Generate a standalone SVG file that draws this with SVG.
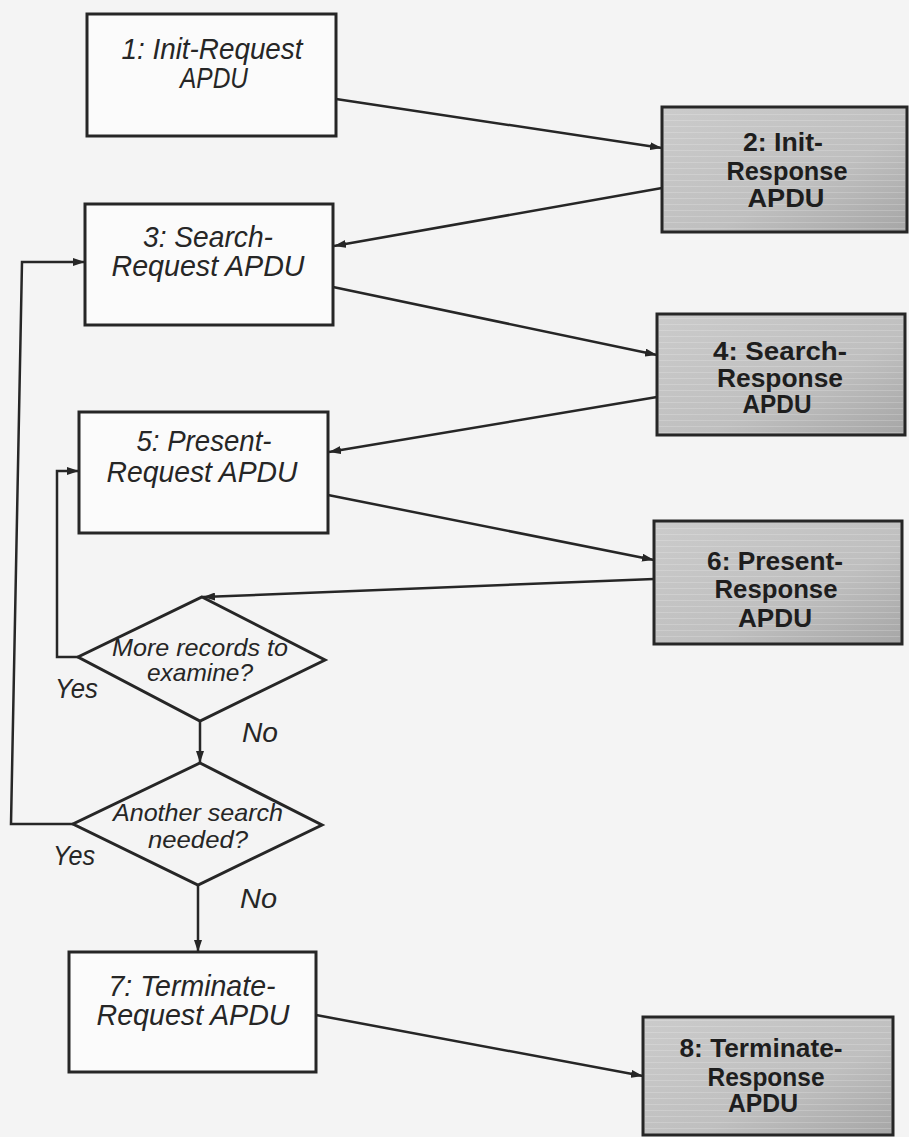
<svg xmlns="http://www.w3.org/2000/svg" width="909" height="1137" viewBox="0 0 909 1137">
  <defs>
    <style>
      .box { fill: #fbfbfb; stroke: #262626; stroke-width: 3; }
      .resp { fill: url(#respFill); stroke: #262626; stroke-width: 3; }
      .dec { fill: none; stroke: #262626; stroke-width: 3; stroke-linejoin: miter; }
      .req { font-family: "Liberation Sans", Arial, sans-serif; font-style: italic; font-size: 29px; fill: #262626; text-anchor: middle; }
      .rsp { font-family: "Liberation Sans", Arial, sans-serif; font-weight: bold; font-size: 25px; fill: #1e1e1e; text-anchor: middle; }
      .q { font-family: "Liberation Sans", Arial, sans-serif; font-style: italic; font-size: 24px; fill: #262626; text-anchor: middle; }
      .lbl { font-family: "Liberation Sans", Arial, sans-serif; font-style: italic; font-size: 27px; fill: #262626; }
      .edge { fill: none; stroke: #262626; stroke-width: 2.5; }
    </style>
    <linearGradient id="respFill" x1="0" y1="0" x2="1" y2="1">
      <stop offset="0" stop-color="#cbcbcb"/>
      <stop offset="0.6" stop-color="#bfbfbf"/>
      <stop offset="1" stop-color="#a6a6a6"/>
    </linearGradient>
    <pattern id="scan" width="8" height="6" patternUnits="userSpaceOnUse">
      <rect width="8" height="1" fill="#ffffff" opacity="0.18"/>
    </pattern>
    <marker id="arrow" viewBox="0 0 12 8" refX="12" refY="4" markerWidth="12" markerHeight="8" markerUnits="userSpaceOnUse" orient="auto">
      <path d="M0,0 L12,4 L0,8 Z" fill="#262626"/>
    </marker>
  </defs>

  <rect width="909" height="1137" fill="#f4f4f4"/>

  <!-- connectors -->
  <g id="connectors">
    <line class="edge" x1="336" y1="99" x2="662" y2="148" marker-end="url(#arrow)"/>
    <line class="edge" x1="662" y1="188" x2="334" y2="246" marker-end="url(#arrow)"/>
    <line class="edge" x1="333" y1="287" x2="657" y2="355" marker-end="url(#arrow)"/>
    <line class="edge" x1="657" y1="397" x2="329" y2="452" marker-end="url(#arrow)"/>
    <line class="edge" x1="328" y1="495" x2="654" y2="560" marker-end="url(#arrow)"/>
    <line class="edge" x1="654" y1="579" x2="203" y2="597" marker-end="url(#arrow)"/>
    <line class="edge" x1="200" y1="721" x2="200" y2="763" marker-end="url(#arrow)"/>
    <line class="edge" x1="198" y1="885" x2="198" y2="952" marker-end="url(#arrow)"/>
    <line class="edge" x1="316" y1="1015" x2="643" y2="1076" marker-end="url(#arrow)"/>
    <!-- "Yes" loop back to Present-Request -->
    <polyline class="edge" points="78,657 57,657 57,471 79,471" marker-end="url(#arrow)"/>
    <!-- "Yes" loop back to Search-Request -->
    <polyline class="edge" points="73,824 11,824 22,262 85,262" marker-end="url(#arrow)"/>
  </g>

  <!-- request nodes -->
  <g id="n1">
    <rect class="box" x="87" y="14" width="249" height="122"/>
    <text class="req" x="212" y="59" textLength="181" lengthAdjust="spacingAndGlyphs">1: Init-Request</text>
    <text class="req" x="214" y="88" textLength="68" lengthAdjust="spacingAndGlyphs">APDU</text>
  </g>
  <g id="n3">
    <rect class="box" x="85" y="204" width="248" height="121"/>
    <text class="req" x="208" y="247" textLength="130" lengthAdjust="spacingAndGlyphs">3: Search-</text>
    <text class="req" x="208" y="276" textLength="193" lengthAdjust="spacingAndGlyphs">Request APDU</text>
  </g>
  <g id="n5">
    <rect class="box" x="79" y="412" width="249" height="121"/>
    <text class="req" x="204" y="451" textLength="135" lengthAdjust="spacingAndGlyphs">5: Present-</text>
    <text class="req" x="202" y="482" textLength="191" lengthAdjust="spacingAndGlyphs">Request APDU</text>
  </g>
  <g id="n7">
    <rect class="box" x="69" y="952" width="247" height="120"/>
    <text class="req" x="192" y="996" textLength="167" lengthAdjust="spacingAndGlyphs">7: Terminate-</text>
    <text class="req" x="193" y="1025" textLength="193" lengthAdjust="spacingAndGlyphs">Request APDU</text>
  </g>

  <!-- response nodes -->
  <g id="n2">
    <rect class="resp" x="662" y="107" width="245" height="125"/>
    <rect x="664" y="109" width="241" height="121" fill="url(#scan)"/>
    <text class="rsp" x="783" y="151" textLength="80" lengthAdjust="spacingAndGlyphs">2: Init-</text>
    <text class="rsp" x="787" y="180" textLength="121" lengthAdjust="spacingAndGlyphs">Response</text>
    <text class="rsp" x="786" y="207" textLength="77" lengthAdjust="spacingAndGlyphs">APDU</text>
  </g>
  <g id="n4">
    <rect class="resp" x="657" y="314" width="248" height="121"/>
    <rect x="659" y="316" width="244" height="117" fill="url(#scan)"/>
    <text class="rsp" x="780" y="360" textLength="134" lengthAdjust="spacingAndGlyphs">4: Search-</text>
    <text class="rsp" x="780" y="387" textLength="126" lengthAdjust="spacingAndGlyphs">Response</text>
    <text class="rsp" x="777" y="413" textLength="69" lengthAdjust="spacingAndGlyphs">APDU</text>
  </g>
  <g id="n6">
    <rect class="resp" x="654" y="521" width="248" height="123"/>
    <rect x="656" y="523" width="244" height="119" fill="url(#scan)"/>
    <text class="rsp" x="775" y="570" textLength="136" lengthAdjust="spacingAndGlyphs">6: Present-</text>
    <text class="rsp" x="776" y="598" textLength="123" lengthAdjust="spacingAndGlyphs">Response</text>
    <text class="rsp" x="775" y="627" textLength="74" lengthAdjust="spacingAndGlyphs">APDU</text>
  </g>
  <g id="n8">
    <rect class="resp" x="643" y="1017" width="250" height="118"/>
    <rect x="645" y="1019" width="246" height="114" fill="url(#scan)"/>
    <text class="rsp" x="761" y="1057" textLength="163" lengthAdjust="spacingAndGlyphs">8: Terminate-</text>
    <text class="rsp" x="766" y="1086" textLength="117" lengthAdjust="spacingAndGlyphs">Response</text>
    <text class="rsp" x="763" y="1112" textLength="70" lengthAdjust="spacingAndGlyphs">APDU</text>
  </g>

  <!-- decisions -->
  <g id="d1">
    <polygon class="dec" points="202,597 325,660 200,721 78,657"/>
    <text class="q" x="200" y="656" textLength="176" lengthAdjust="spacingAndGlyphs">More records to</text>
    <text class="q" x="200" y="681" textLength="106" lengthAdjust="spacingAndGlyphs">examine?</text>
    <text class="lbl" x="55" y="698" textLength="43" lengthAdjust="spacingAndGlyphs">Yes</text>
    <text class="lbl" x="242" y="742" textLength="36" lengthAdjust="spacingAndGlyphs">No</text>
  </g>
  <g id="d2">
    <polygon class="dec" points="200,763 322,825 198,885 73,824"/>
    <text class="q" x="198" y="821" textLength="170" lengthAdjust="spacingAndGlyphs">Another search</text>
    <text class="q" x="198" y="848" textLength="100" lengthAdjust="spacingAndGlyphs">needed?</text>
    <text class="lbl" x="53" y="865" textLength="42" lengthAdjust="spacingAndGlyphs">Yes</text>
    <text class="lbl" x="240" y="908" textLength="37" lengthAdjust="spacingAndGlyphs">No</text>
  </g>
</svg>
